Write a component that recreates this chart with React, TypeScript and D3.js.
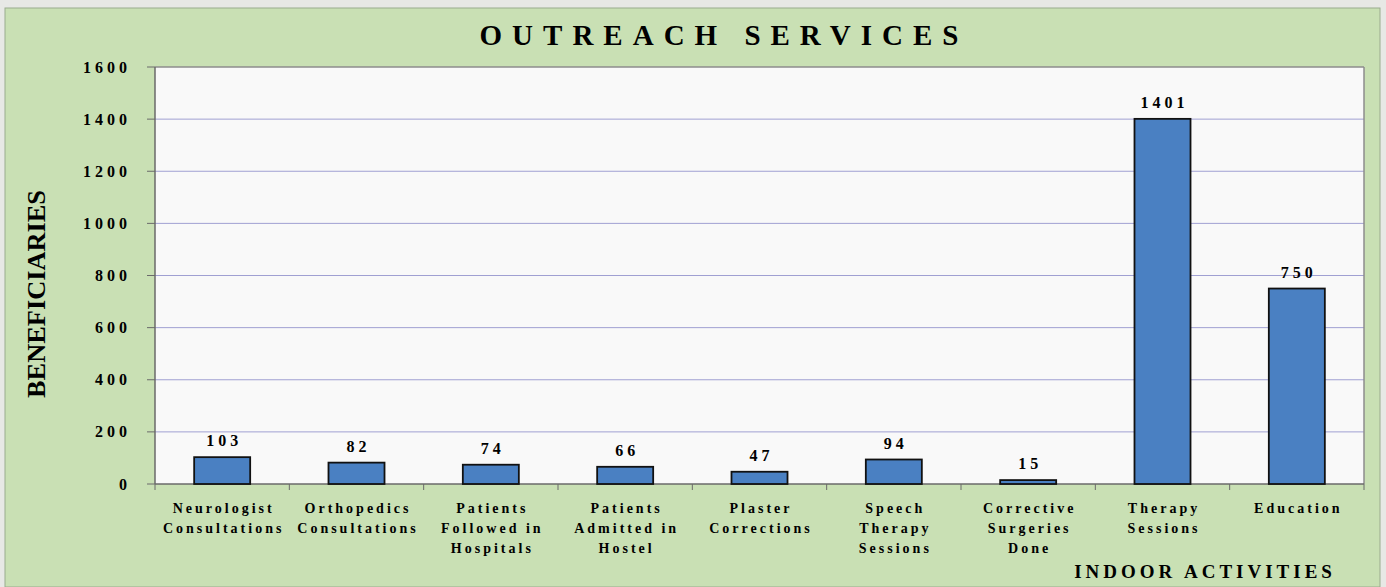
import React from "react";
import * as d3 from "d3";

const categories: string[][] = [
  ["Neurologist", "Consultations"],
  ["Orthopedics", "Consultations"],
  ["Patients", "Followed in", "Hospitals"],
  ["Patients", "Admitted in", "Hostel"],
  ["Plaster", "Corrections"],
  ["Speech", "Therapy", "Sessions"],
  ["Corrective", "Surgeries", "Done"],
  ["Therapy", "Sessions"],
  ["Education"],
];
const values: number[] = [103, 82, 74, 66, 47, 94, 15, 1401, 750];
const yTicks: number[] = [0, 200, 400, 600, 800, 1000, 1200, 1400, 1600];

const W = 1386;
const H = 587;
const plot = { left: 155, top: 67, right: 1364, bottom: 484 };
const serif = "'Liberation Serif', 'Times New Roman', serif";

export default function App() {
  const x = d3
    .scaleBand<number>()
    .domain(d3.range(values.length))
    .range([plot.left, plot.right])
    .paddingInner(0.583)
    .paddingOuter(0.2915);
  const y = d3.scaleLinear().domain([0, 1600]).range([plot.bottom, plot.top]);
  const step = x.step();

  return (
    <svg
      width={W}
      height={H}
      style={{ position: "absolute", left: 0, top: 0 }}
      xmlns="http://www.w3.org/2000/svg"
    >
      <rect x={0} y={0} width={W} height={H} fill="#e7e8e5" />
      <rect x={5} y={8} width={1375} height={H - 8} fill="#c9e0b4" stroke="#9aab8e" strokeWidth={1} />
      <rect
        x={plot.left}
        y={plot.top}
        width={plot.right - plot.left}
        height={plot.bottom - plot.top}
        fill="#f9f9f9"
      />
      {yTicks.slice(1, -1).map((t) => (
        <line key={"g" + t} x1={plot.left} x2={plot.right} y1={y(t)} y2={y(t)} stroke="#a0a0d2" strokeWidth={1} />
      ))}
      <line x1={plot.left} x2={plot.right} y1={plot.top} y2={plot.top} stroke="#8c8c8c" strokeWidth={1.5} />
      <line x1={plot.right} x2={plot.right} y1={plot.top} y2={plot.bottom} stroke="#8c8c8c" strokeWidth={1.5} />
      <line x1={plot.left} x2={plot.left} y1={plot.top} y2={plot.bottom} stroke="#6a6a6a" strokeWidth={1.5} />
      <line x1={plot.left} x2={plot.right} y1={plot.bottom} y2={plot.bottom} stroke="#6a6a6a" strokeWidth={1.5} />
      {yTicks.map((t) => (
        <g key={"y" + t}>
          <line x1={plot.left - 8} x2={plot.left} y1={y(t)} y2={y(t)} stroke="#6a6a6a" strokeWidth={1} />
          <text
            x={131}
            y={y(t) + 5.5}
            textAnchor="end"
            fontFamily={serif}
            fontWeight="bold"
            fontSize={16}
            letterSpacing={4}
            fill="#000"
          >
            {t}
          </text>
        </g>
      ))}
      {d3.range(values.length + 1).map((i) => (
        <line
          key={"xt" + i}
          x1={plot.left + i * step}
          x2={plot.left + i * step}
          y1={plot.bottom}
          y2={plot.bottom + 6}
          stroke="#6a6a6a"
          strokeWidth={1}
        />
      ))}
      {values.map((v, i) => (
        <g key={"b" + i}>
          <rect
            x={x(i)!}
            y={y(v)}
            width={x.bandwidth()}
            height={plot.bottom - y(v)}
            fill="#4a80c2"
            stroke="#111"
            strokeWidth={1.8}
          />
          <text
            x={x(i)! + x.bandwidth() / 2 + 2}
            y={y(v) - 11}
            textAnchor="middle"
            fontFamily={serif}
            fontWeight="bold"
            fontSize={16}
            letterSpacing={4}
            fill="#000"
          >
            {v}
          </text>
        </g>
      ))}
      {categories.map((lines, i) => (
        <text
          key={"c" + i}
          textAnchor="middle"
          fontFamily={serif}
          fontWeight="bold"
          fontSize={14}
          letterSpacing={3}
          fill="#000"
        >
          {lines.map((l, j) => (
            <tspan key={j} x={x(i)! + x.bandwidth() / 2 + 1.5} y={513 + j * 20}>
              {l}
            </tspan>
          ))}
        </text>
      ))}
      <text
        x={724}
        y={45}
        textAnchor="middle"
        fontFamily={serif}
        fontWeight="bold"
        fontSize={29}
        letterSpacing={10}
        fill="#000"
      >
        OUTREACH SERVICES
      </text>
      <text
        transform={`translate(45, 294) rotate(-90) scale(1, 1.08)`}
        textAnchor="middle"
        fontFamily={serif}
        fontWeight="bold"
        fontSize={23}
        textLength={208}
        lengthAdjust="spacingAndGlyphs"
        fill="#000"
      >
        BENEFICIARIES
      </text>
      <text
        x={1205}
        y={578}
        textAnchor="middle"
        fontFamily={serif}
        fontWeight="bold"
        fontSize={19}
        letterSpacing={4}
        fill="#000"
      >
        INDOOR ACTIVITIES
      </text>
    </svg>
  );
}
